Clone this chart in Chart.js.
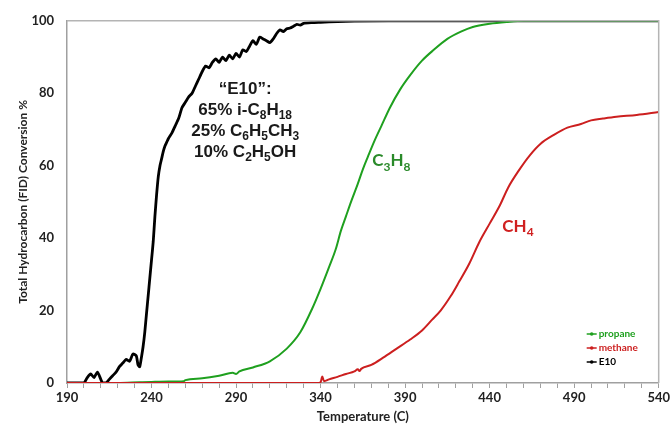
<!DOCTYPE html>
<html>
<head>
<meta charset="utf-8">
<script src="https://cdn.jsdelivr.net/npm/chart.js@4.4.1/dist/chart.umd.min.js"></script>
<style>
  html, body { margin: 0; padding: 0; background: #ffffff; }
  canvas { display: block; }
</style>
</head>
<body>
<canvas id="c" width="672" height="429"></canvas>
<script>
// ---- Data ----
const xTickLabels = [190, 240, 290, 340, 390, 440, 490, 540];
const yTickLabels = [0, 20, 40, 60, 80, 100];

const e10Temp = [190,195,200,202,204,206,208,210,211,213,215,217,219,221,223,225,227,229,231,232,233,234,235,236,237,238,239,240,241,242,243,244,245,246,247,248,249,250,252,254,256,258,260,262,264,266,268,270,272,274,276,278,280,282,284,286,288,290,292,294,296,298,300,302,304,306,308,310,312,314,316,318,320,322,324,326,328,330,335,340,350,360,400,540];
const e10Conv = [0,0,0,1.5,2.5,1.5,3,1,0,0,1,2,3,4.5,5.5,6.5,6,8,7.5,5,4.5,7,10,14,19,24,29,34,39,46,52,57,60,62,64,65.5,66.5,67.5,69,71,73,76,77.5,79,80,82,84,86,87.5,87,88.5,89.5,88.5,90,89,90.5,89.5,91,90,92,91.5,93,94.5,93.5,95.5,95,94.5,94,95,96.5,97.5,97,97.8,98,98.5,99,98.8,99.3,99.5,99.6,99.8,99.9,100,100];

const propaneTemp = [190,220,233,240,250,259,260,270,280,288,290,292,300,310,320,328,335,340,345,349,352,355,358,362,365,368,372,376,381,387,393,400,407,415,423,430,440,450,460,540];
const propaneConv = [0,0,0.2,0.3,0.4,0.5,0.8,1.3,2,2.8,2.5,3.2,4.3,6,9.5,14,20.5,26,32,37,42,46,50,55,59,62.5,67,71,76,81,85,89,92,95,97,98.3,99.2,99.7,100,100];

const methaneTemp = [190,300,338,340,341,342,345,350,355,360,362,363,364,370,377,385,393,400,406,411,417,422,428,434,440,446,451,457,464,470,478,486,494,500,507,515,527,540];
const methaneConv = [0,0,0,0.2,1.8,0.5,1,1.7,2.5,3.2,3.8,3.3,3.9,5,7,9.5,12,14.5,17.5,20,24,28,33,39,44,49,54,58.5,63,66,68.5,70.5,71.5,72.5,73,73.5,74,74.8];

const seriesNames = ['propane', 'methane', 'E10'];
const seriesColors = ['#1fa01f', '#cc1f1f', '#000000'];

function pts(xs, ys) { return xs.map((x, i) => ({ x: x, y: ys[i] })); }

// ---- Annotation text (rich text with subscripts) ----
const annotations = [
  { x: 295.4, y: 79.9, color: '#1a1a1a', font: '"Liberation Sans", Arial, sans-serif', size: 17, lineGap: 21, align: 'center',
    lines: [
      [['\u201CE10\u201D:', 0]],
      [['65% i-C', 0], ['8', 1], ['H', 0], ['18', 1]],
      [['25% C', 0], ['6', 1], ['H', 0], ['5', 1], ['CH', 0], ['3', 1]],
      [['10% C', 0], ['2', 1], ['H', 0], ['5', 1], ['OH', 0]]
    ] },
  { x: 370.6, y: 59.8, color: '#2a8a2a', font: 'Lato, sans-serif', size: 17, lineGap: 20, align: 'left',
    lines: [[['C', 0], ['3', 1], ['H', 0], ['8', 1]]] },
  { x: 447.5, y: 41.8, color: '#d02020', font: 'Lato, sans-serif', size: 17, lineGap: 20, align: 'left',
    lines: [[['CH', 0], ['4', 1]]] }
];

const richTextPlugin = {
  id: 'richText',
  afterDatasetsDraw(chart) {
    const ctx = chart.ctx;
    const xs = chart.scales.x, ys = chart.scales.y;
    annotations.forEach(a => {
      const px = xs.getPixelForValue(a.x);
      const py = ys.getPixelForValue(a.y);
      const big = 'bold ' + a.size + 'px ' + a.font;
      const small = 'bold ' + Math.round(a.size * 0.68) + 'px ' + a.font;
      ctx.save();
      ctx.fillStyle = a.color;
      ctx.textBaseline = 'alphabetic';
      ctx.textAlign = 'left';
      a.lines.forEach((line, li) => {
        let w = 0;
        line.forEach(seg => { ctx.font = seg[1] ? small : big; w += ctx.measureText(seg[0]).width; });
        let x = a.align === 'center' ? px - w / 2 : px;
        const base = py + li * a.lineGap;
        line.forEach(seg => {
          ctx.font = seg[1] ? small : big;
          ctx.fillText(seg[0], x, base + (seg[1] ? a.size * 0.25 : 0));
          x += ctx.measureText(seg[0]).width;
        });
      });
      ctx.restore();
    });
  }
};

const frameAndLegendPlugin = {
  id: 'frameLegend',
  afterDraw(chart) {
    const ctx = chart.ctx;
    const ca = chart.chartArea;
    ctx.save();
    ctx.strokeStyle = '#b4b4b4';
    ctx.lineWidth = 1.5;
    ctx.beginPath();
    ctx.moveTo(ca.left, ca.top);
    ctx.lineTo(ca.right, ca.top);
    ctx.lineTo(ca.right, ca.bottom);
    ctx.stroke();
    const lx = ca.right - 72, ly0 = ca.bottom - 49, gap = 14;
    ctx.font = 'bold 10px Lato, sans-serif';
    ctx.textBaseline = 'middle';
    ctx.textAlign = 'left';
    seriesNames.forEach((name, i) => {
      const y = ly0 + i * gap;
      ctx.strokeStyle = seriesColors[i];
      ctx.fillStyle = seriesColors[i];
      ctx.lineWidth = 1.5;
      ctx.beginPath();
      ctx.moveTo(lx, y);
      ctx.lineTo(lx + 10, y);
      ctx.stroke();
      ctx.beginPath();
      ctx.arc(lx + 5, y, 1.8, 0, Math.PI * 2);
      ctx.fill();
      ctx.fillText(name, lx + 12, y);
    });
    ctx.restore();
  }
};

const tickFont = { family: 'Lato, sans-serif', size: 13, weight: 'bold' };

new Chart(document.getElementById('c'), {
  type: 'scatter',
  data: {
    datasets: [
      { label: seriesNames[0], data: pts(propaneTemp, propaneConv), borderColor: seriesColors[0], backgroundColor: seriesColors[0],
        showLine: true, borderWidth: 2, pointRadius: 0, cubicInterpolationMode: 'monotone', order: 1 },
      { label: seriesNames[1], data: pts(methaneTemp, methaneConv), borderColor: seriesColors[1], backgroundColor: seriesColors[1],
        showLine: true, borderWidth: 2, pointRadius: 0, cubicInterpolationMode: 'monotone', order: 0 },
      { label: seriesNames[2], data: pts(e10Temp, e10Conv), borderColor: seriesColors[2], backgroundColor: seriesColors[2],
        showLine: true, borderWidth: 2.8, pointRadius: 0, tension: 0.2, order: 2 }
    ]
  },
  options: {
    responsive: false,
    animation: false,
    events: [],
    layout: { padding: { left: 13, right: 13, top: 10, bottom: 0 } },
    plugins: { legend: { display: false }, tooltip: { enabled: false } },
    scales: {
      x: {
        type: 'linear', min: 190, max: 540,
        grid: { display: true, drawOnChartArea: false, drawTicks: true, tickLength: 5, color: '#a0a0a0', lineWidth: 1 },
        border: { display: true, color: '#a0a0a0', width: 1.5 },
        ticks: {
          stepSize: 10, autoSkip: false, maxRotation: 0, padding: 2, color: '#222', font: tickFont,
          callback: v => xTickLabels.includes(v) ? String(v) : ''
        },
        title: { display: true, text: 'Temperature (C)', color: '#222', font: { family: 'Lato, sans-serif', size: 13, weight: 'bold' }, padding: { top: 2, bottom: 4 } },
        afterFit: s => { s.height = 46; }
      },
      y: {
        type: 'linear', min: 0, max: 100,
        grid: { display: true, drawOnChartArea: false, drawTicks: false },
        border: { display: true, color: '#a0a0a0', width: 1.5 },
        ticks: {
          stepSize: 20, padding: 13, color: '#222', font: tickFont,
          callback: v => yTickLabels.includes(v) ? String(v) : ''
        },
        title: { display: true, text: 'Total Hydrocarbon (FID) Conversion %', color: '#222', font: { family: 'Lato, sans-serif', size: 12, weight: 'bold' }, padding: { top: 3, bottom: 0 } },
        afterFit: s => { s.width = 54; }
      }
    }
  },
  plugins: [richTextPlugin, frameAndLegendPlugin]
});
</script>
</body>
</html>
